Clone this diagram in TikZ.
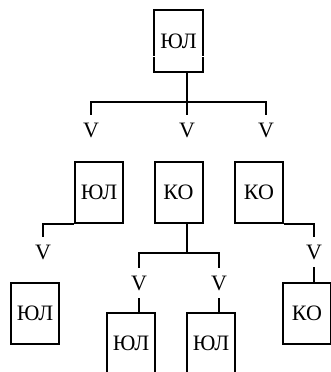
\documentclass[tikz,border=0pt]{standalone}
\usepackage{fontspec}
\setmainfont{Liberation Serif}
\begin{document}
\begin{tikzpicture}[x=1pt,y=-1pt,
  every node/.style={font=\fontsize{22}{26}\selectfont, inner sep=0pt},
  box/.style={draw, line width=2pt, minimum width=48pt, minimum height=61pt},
  plainbox/.style={minimum width=48pt, minimum height=61pt},
  vmark/.style={minimum height=30pt, minimum width=14pt},
  link/.style={line width=2pt}]
\useasboundingbox (0,0) rectangle (331,372);

% boxes
\node[plainbox] (top) at (178.5,41) {ЮЛ};
\node[box] (r2a) at (99,192.5) {ЮЛ};
\node[box] (r2b) at (178.5,192.5) {КО};
\node[box] (r2c) at (259,192.5) {КО};
\node[box] (r3a) at (35,313.5) {ЮЛ};
\node[box] (r3b) at (131,343.5) {ЮЛ};
\node[box] (r3c) at (211,343.5) {ЮЛ};
\node[box] (r3d) at (307,313.5) {КО};

% top box outline, sides broken near the bottom
\draw[link] ([yshift=16pt]top.south west) |- (top.north east) -- ([yshift=16pt]top.south east);
\draw[link] ([yshift=14.5pt]top.south west) -- (top.south west) -- (top.south east) -- ([yshift=14.5pt]top.south east);

% V marks
\node[vmark] (vA) at (91,130) {V};
\node[vmark] (vB) at (187,130) {V};
\node[vmark] (vC) at (266,130) {V};
\node[vmark] (vL) at (43,252) {V};
\node[vmark] (vR) at (314,252) {V};
\node[vmark] (vM1) at (139,283) {V};
\node[vmark] (vM2) at (219,283) {V};

% junctions
\coordinate (b0) at (187,102);
\coordinate (b1) at (187,253);

% connectors
\draw[link] (top.south -| vB) -- (vB.north);
\draw[link] (vA.north) |- (b0) -| (vC.north);
\draw[link] (r2a.south west) -| (vL.north);
\draw[link] (r2c.south east) -| (vR.north);
\draw[link] (vR.south) -- (r3d.north -| vR);
\draw[link] (r2b.south -| b1) -- (b1);
\draw[link] (vM1.north) |- (b1) -| (vM2.north);
\draw[link] (vM1.south) -- (r3b.north -| vM1);
\draw[link] (vM2.south) -- (r3c.north -| vM2);
\end{tikzpicture}
\end{document}
